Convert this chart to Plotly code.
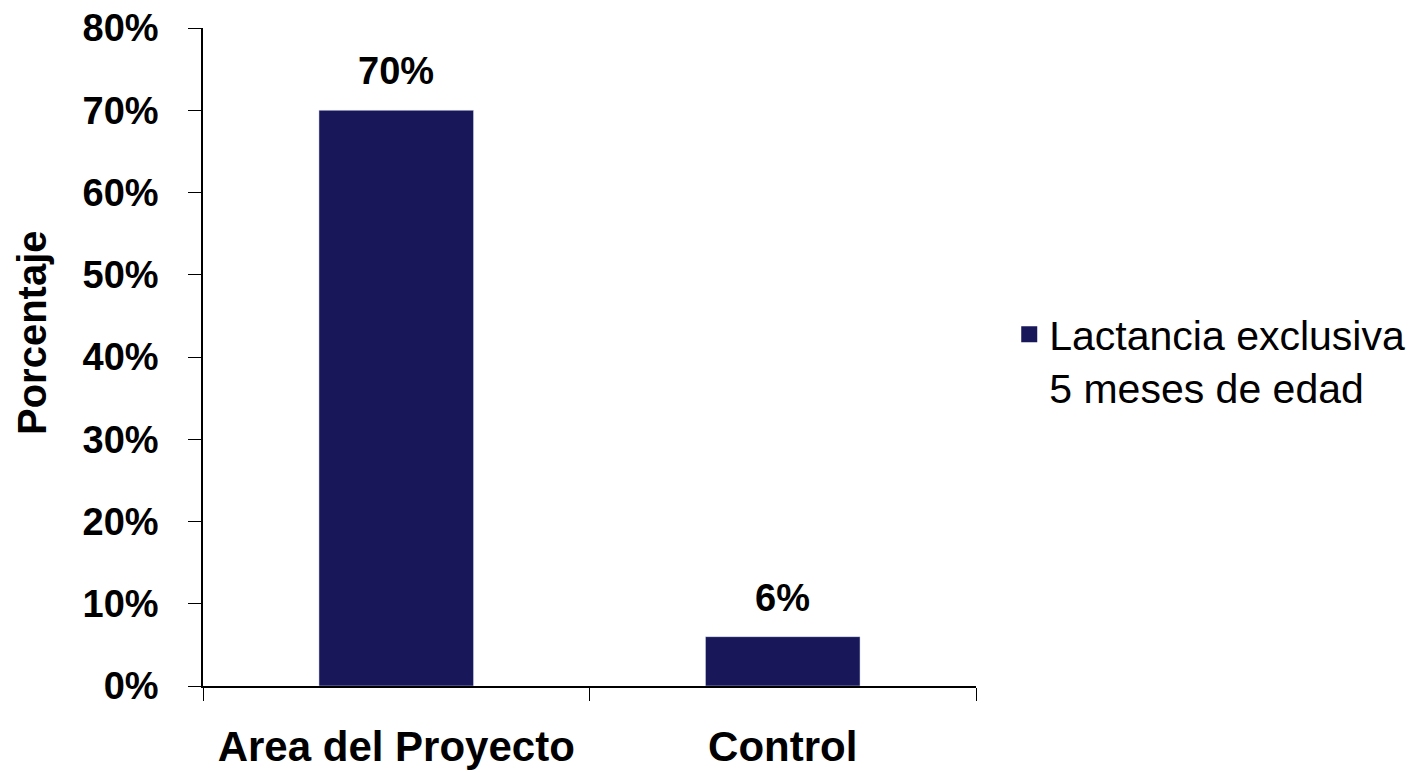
import plotly.graph_objects as go

categories = ["Area del Proyecto", "Control"]
values = [70, 6]
series_name = "Lactancia exclusiva<br>5 meses de edad"
y_ticks = [0, 10, 20, 30, 40, 50, 60, 70, 80]
y_tick_labels = [f"{v}%" for v in y_ticks]

bar_color = "#18175A"
font_family = "Liberation Sans, Arial, sans-serif"

fig = go.Figure()
fig.add_trace(go.Bar(
    x=categories, y=values, width=0.4,
    marker=dict(color=bar_color),
    showlegend=False,
))
# legend entry
fig.add_trace(go.Scatter(
    x=[None], y=[None], mode="markers", name=series_name,
    marker=dict(symbol="square", size=22, color=bar_color),
))

label_annotations = [
    dict(x=c, y=v, xref="x", yref="y", text=f"{v}%", showarrow=False,
         xanchor="center", yanchor="bottom", yshift=16,
         font=dict(family=font_family, size=38, color="black", weight="bold"))
    for c, v in zip(categories, values)
]

fig.update_layout(
    width=1428, height=772,
    margin=dict(l=203, r=452, t=28, b=86, autoexpand=False),
    paper_bgcolor="white", plot_bgcolor="white",
    font=dict(family=font_family, color="black"),
    showlegend=True,
    legend=dict(x=1.043, y=0.585, xanchor="left", yanchor="top",
                valign="top", itemsizing="trace", tracegroupgap=0,
                font=dict(family=font_family, size=41, color="black")),
    xaxis=dict(range=[-0.5, 1.5], showline=True, linecolor="black", linewidth=1.5,
               ticks="outside", tickson="boundaries", ticklen=13, tickcolor="black",
               tickfont=dict(family=font_family, size=42, color="black", weight="bold"),
               ticklabelstandoff=23,
               showgrid=False, zeroline=False, automargin=False),
    yaxis=dict(range=[0, 80], tickvals=y_ticks, ticktext=y_tick_labels,
               showline=True, linecolor="black", linewidth=1.5,
               ticks="outside", ticklen=13, tickcolor="black",
               tickfont=dict(family=font_family, size=38, color="black", weight="bold"),
               ticklabelstandoff=22,
               showgrid=False, zeroline=False, automargin=False),
    annotations=label_annotations + [
        dict(text="Porcentaje", xref="paper", yref="paper",
             x=(32 - 203) / 773, y=(686 - 333) / 658,
             xanchor="center", yanchor="middle", textangle=-90,
             showarrow=False,
             font=dict(family=font_family, size=40, color="black", weight="bold"))],
)

fig.write_html("out.html",
               config={"displayModeBar": False},
               post_script="document.body.style.margin='0';document.body.style.padding='0';document.body.style.overflow='hidden';")
